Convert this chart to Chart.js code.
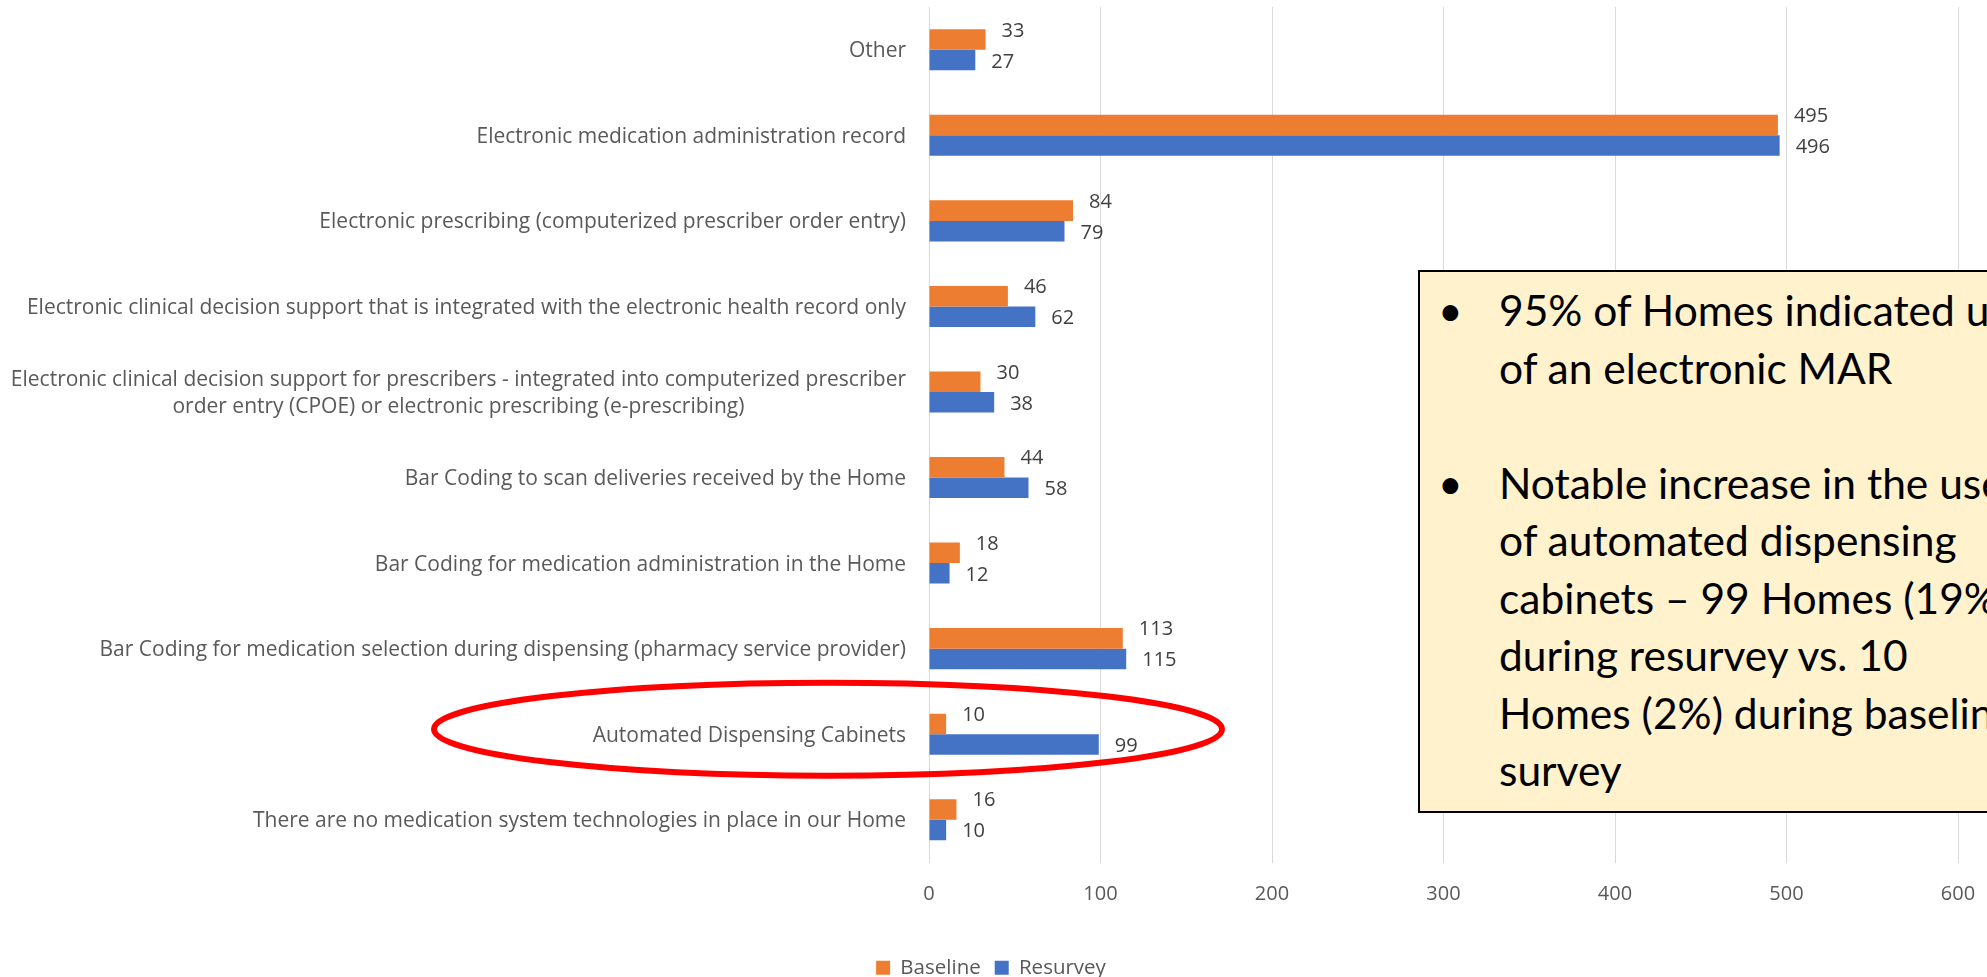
<!DOCTYPE html>
<html>
<head>
<meta charset="utf-8">
<script src="https://cdn.jsdelivr.net/npm/chart.js@4.4.0/dist/chart.umd.min.js"></script>
<style>
  html, body { margin: 0; padding: 0; background: #fff; overflow: hidden; width: 1987px; height: 977px; }
  #wrap { position: absolute; left: 0; top: 0; width: 1987px; height: 988px; }
  #note {
    position: absolute; left: 1418px; top: 270px; width: 700px; height: 543px;
    box-sizing: border-box; background: #FFF2CC; border: 2px solid #000;
    padding-top: 9px; font-family: Lato, sans-serif; font-size: 42.5px; line-height: 57.5px;
    color: #000; white-space: nowrap;
  }
  #note .item { position: relative; padding-left: 79px; }
  #note .bul { position: absolute; left: 18px; top: 0; }
  #note .gap { height: 57.5px; }
</style>
</head>
<body>
<div id="wrap"><canvas id="techChart"></canvas></div>
<div id="note">
  <div class="item"><span class="bul">•</span>95% of Homes indicated use<br>of an electronic MAR</div>
  <div class="gap"></div>
  <div class="item"><span class="bul">•</span>Notable increase in the use<br>of automated dispensing<br>cabinets – 99 Homes (19%)<br>during resurvey vs. 10<br>Homes (2%) during baseline<br>survey</div>
</div>
<script>
const categories = [
  'Other',
  'Electronic medication administration record',
  'Electronic prescribing (computerized prescriber order entry)',
  'Electronic clinical decision support that is integrated with the electronic health record only',
  ['Electronic clinical decision support for prescribers - integrated into computerized prescriber',
   'order entry (CPOE) or electronic prescribing (e-prescribing)'],
  'Bar Coding to scan deliveries received by the Home',
  'Bar Coding for medication administration in the Home',
  'Bar Coding for medication selection during dispensing (pharmacy service provider)',
  'Automated Dispensing Cabinets',
  'There are no medication system technologies in place in our Home'
];
const baseline = [33, 495, 84, 46, 30, 44, 18, 113, 10, 16];
const resurvey = [27, 496, 79, 62, 38, 58, 12, 115, 99, 10];
const seriesNames = ['Baseline', 'Resurvey'];
const xMin = 0, xMax = 600, xStep = 100;
const highlightIndex = 8;

Chart.defaults.font.family = "'Open Sans'";

// category names drawn by hand so the two-line label can be centred like in Excel
const categoryLabels = {
  id: 'categoryLabels',
  afterDraw(chart) {
    const ctx = chart.ctx, y = chart.scales.y;
    ctx.save();
    ctx.font = "21px 'Open Sans'";
    ctx.fillStyle = '#595959';
    ctx.textAlign = 'center';
    ctx.textBaseline = 'alphabetic';
    categories.forEach((lab, i) => {
      const lines = Array.isArray(lab) ? lab : [lab];
      const cy = y.getPixelForValue(i);
      const w = Math.max(...lines.map(l => ctx.measureText(l).width));
      const cx = y.right - 23 - w / 2;
      lines.forEach((l, k) => ctx.fillText(l, cx, cy + 7.5 + (k - (lines.length - 1) / 2) * 27));
    });
    ctx.restore();
  }
};

const valueLabels = {
  id: 'valueLabels',
  afterDatasetsDraw(chart) {
    const ctx = chart.ctx;
    ctx.save();
    ctx.font = "20px 'Open Sans'";
    ctx.fillStyle = '#404040';
    ctx.textAlign = 'left';
    ctx.textBaseline = 'alphabetic';
    chart.data.datasets.forEach((ds, di) => {
      chart.getDatasetMeta(di).data.forEach((bar, i) => {
        ctx.fillText(ds.data[i], bar.x + 16, bar.y + (di === 0 ? -3 : 7.5));
      });
    });
    ctx.restore();
  }
};

const highlight = {
  id: 'highlight',
  afterDraw(chart) {
    const ctx = chart.ctx, y = chart.scales.y, x = chart.scales.x;
    const cy = y.getPixelForValue(highlightIndex);
    ctx.save();
    ctx.strokeStyle = '#FF0000';
    ctx.lineWidth = 6;
    ctx.beginPath();
    ctx.ellipse(x.left - 101, cy - 5, 394, 46.5, 0, 0, Math.PI * 2);
    ctx.stroke();
    ctx.restore();
  }
};

new Chart(document.getElementById('techChart'), {
  type: 'bar',
  data: {
    labels: categories,
    datasets: [
      { label: seriesNames[0], data: baseline, backgroundColor: '#ED7D31' },
      { label: seriesNames[1], data: resurvey, backgroundColor: '#4472C4' }
    ]
  },
  options: {
    indexAxis: 'y',
    responsive: true,
    maintainAspectRatio: false,
    animation: false,
    categoryPercentage: 0.48,
    barPercentage: 1.0,
    layout: { padding: { top: 7, right: 29, bottom: 0, left: 24 } },
    scales: {
      x: {
        min: xMin, max: xMax,
        ticks: { stepSize: xStep, color: '#595959', font: { size: 20 }, padding: 20 },
        grid: { color: '#D9D9D9', drawTicks: false },
        border: { display: false },
        afterFit: s => { s.height = 81; s.paddingLeft = 0; s.paddingRight = 0; }
      },
      y: {
        grid: { display: false },
        border: { display: false },
        ticks: { display: false },
        afterFit: s => { s.width = 905; }
      }
    },
    plugins: {
      legend: {
        position: 'bottom',
        labels: { boxWidth: 14, boxHeight: 14, color: '#595959', font: { size: 20.5 }, padding: 14 }
      },
      tooltip: { enabled: false }
    }
  },
  plugins: [categoryLabels, valueLabels, highlight]
});
</script>
</body>
</html>
